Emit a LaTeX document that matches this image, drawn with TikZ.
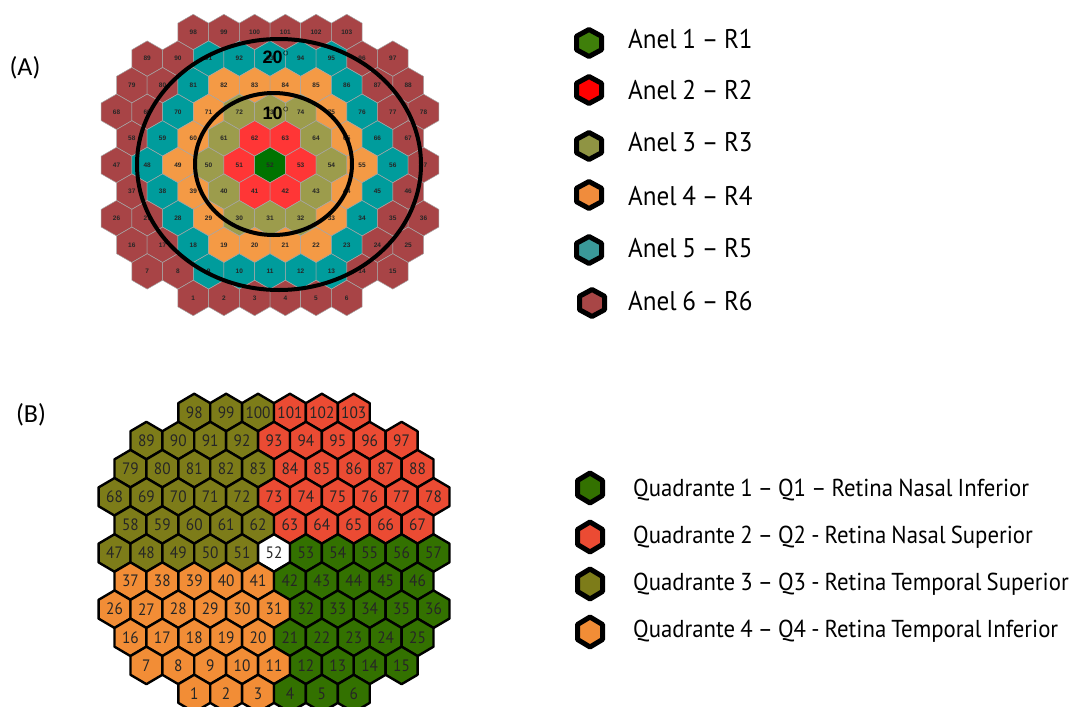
\documentclass[tikz,border=0pt]{standalone}
\usepackage{fontspec}
\setmainfont{PT Sans}
\newfontfamily\legfont{PT Sans}[Ligatures=TeX, FakeStretch=0.93, WordSpace=0.85]
\newfontfamily\rotfont{Carlito}
\newfontfamily\numfont{Liberation Sans}

% cores dos aneis (A)
\definecolor{ringc1}{HTML}{007300}
\definecolor{ringc2}{HTML}{FF3636}
\definecolor{ringc3}{HTML}{9C9C4C}
\definecolor{ringc4}{HTML}{F49A45}
\definecolor{ringc5}{HTML}{009C9C}
\definecolor{ringc6}{HTML}{A84446}
% cores dos quadrantes (B)
\definecolor{quadc0}{HTML}{FFFFFF}
\definecolor{quadc1}{HTML}{337100}
\definecolor{quadc2}{HTML}{EB4B33}
\definecolor{quadc3}{HTML}{7D7C19}
\definecolor{quadc4}{HTML}{F28D36}
% cores da legenda (A)
\definecolor{legR1}{HTML}{3F7F0A}
\definecolor{legR2}{HTML}{FF0000}
\definecolor{legR3}{HTML}{8F9443}
\definecolor{legR4}{HTML}{F08C3C}
\definecolor{legR5}{HTML}{3A9999}
\definecolor{legR6}{HTML}{A84646}

\tikzset{
	celA/.style={draw=black!35, line width=0.5pt},
	celB/.style={draw=black, line width=2.4pt, line join=round},
	marca/.style={draw=black, line width=5pt, line join=round},
	numA/.style={font=\numfont\bfseries\fontsize{6.5}{7}\selectfont, text=black!85, inner sep=0pt},
	numB/.style={font=\legfont\fontsize{16.5}{18}\selectfont, text=black!85, inner sep=0pt},
	legenda/.style={anchor=base west, font=\legfont\fontsize{27}{30}\selectfont, inner sep=0pt},
	legendb/.style={anchor=base west, font=\legfont\fontsize{24.5}{28}\selectfont, inner sep=0pt},
	rotulo/.style={font=\rotfont\fontsize{26}{30}\selectfont, inner sep=0pt},
	grau/.style={font=\numfont\bfseries\fontsize{18}{20}\selectfont, inner sep=0pt},
	anelcirc/.style={draw=black, line width=4pt},
}

\begin{document}
\begin{tikzpicture}[x=1pt, y=-1pt]
	\useasboundingbox (0,0) rectangle (1077,707);
	
	% (A) e (B)
	\node[rotulo] (rotA) at (25,68) {(A)};
	\node[rotulo] (rotB) at (31,415) {(B)};
	
	% Hexagonos: linha / primeiro numero / quantidade / coluna inicial
	\foreach \r/\first/\n/\xo in {1/98/6/2.5, 2/89/9/1, 3/79/10/0.5, 4/68/11/0, 5/58/10/0.5, 6/47/11/0, 7/37/10/0.5, 8/26/11/0, 9/16/10/0.5, 10/7/9/1, 11/1/6/2.5} {
		\foreach \k in {1,...,\n} {
			\pgfmathtruncatemacro{\nr}{\first+\k-1}
			\pgfmathsetmacro{\col}{\xo+\k-1}
			% anel = distancia ao hexagono 52
			\pgfmathsetmacro{\dr}{abs(\r-6)}
			\pgfmathsetmacro{\dc}{abs(2*\col-10)}
			\pgfmathtruncatemacro{\anel}{min(\dr+max(0,(\dc-\dr)/2),5)+1}
			% quadrante
			\pgfmathtruncatemacro{\qd}{\r<6 ? (\col>=5 ? 2 : 3) : (\r>6 ? (\col<=5 ? 4 : 1) : (\col<5 ? 3 : (\col>5 ? 1 : 0)))}
			\pgfmathsetmacro{\xa}{270+(\col-5)*30.7}
			\pgfmathsetmacro{\ya}{165+(\r-6)*26.6}
			\pgfmathsetmacro{\xb}{274+(\col-5)*31.9}
			\pgfmathsetmacro{\yb}{553+(\r-6)*28.1}
			
			\draw[celA, fill=ringc\anel, shift={(\xa,\ya)}] (0,-17.7) -- (15.35,-8.85) -- (15.35,8.85) -- (0,17.7) -- (-15.35,8.85) -- (-15.35,-8.85) -- cycle;
			\node[numA] (a\nr) at (\xa,\ya) {\nr};
			
			\draw[celB, fill=quadc\qd, shift={(\xb,\yb)}] (0,-18.75) -- (15.95,-9.375) -- (15.95,9.375) -- (0,18.75) -- (-15.95,9.375) -- (-15.95,-9.375) -- cycle;
			\node[numB] (b\nr) at (\xb,\yb) {\nr};
		}
	}
	
	% circulos de 10 e 20 graus
	\draw[anelcirc] (279,164.5) ellipse [x radius=142pt, y radius=125.5pt];
	\draw[anelcirc] (273.5,164) ellipse [x radius=78.5pt, y radius=71pt];
	\node[grau] (g20) at (276,57) {20$^{\circ}$};
	\node[grau] (g10) at (276,113) {10$^{\circ}$};
	
	% legenda (A)
	\foreach \i/\ym/\yt/\xm in {1/43/48.3/589, 2/90/99/589, 3/146/151.7/589, 4/195/205/589, 5/250/257/589, 6/303/310/592} {
		\draw[marca, fill=legR\i, shift={(\xm,\ym)}] (0,-13.5) -- (12.5,-6.75) -- (12.5,6.75) -- (0,13.5) -- (-12.5,6.75) -- (-12.5,-6.75) -- cycle;
		\node[legenda] (anel\i) at (628,\yt) {Anel \i\ -- R\i};
	}
	
	% legenda (B)
	\foreach \i/\ym/\yt/\txt in {1/488/496/{Quadrante 1 -- Q1 -- Retina Nasal Inferior}, 2/537/543/{Quadrante 2 -- Q2 - Retina Nasal Superior}, 3/584/590/{Quadrante 3 -- Q3 - Retina Temporal Superior}, 4/632/637/{Quadrante 4 -- Q4 - Retina Temporal Inferior}} {
		\draw[marca, fill=quadc\i, shift={(590,\ym)}] (0,-15) -- (12.5,-7.5) -- (12.5,7.5) -- (0,15) -- (-12.5,7.5) -- (-12.5,-7.5) -- cycle;
		\node[legendb] (quad\i) at (633,\yt) {\txt};
	}
\end{tikzpicture}
\end{document}
